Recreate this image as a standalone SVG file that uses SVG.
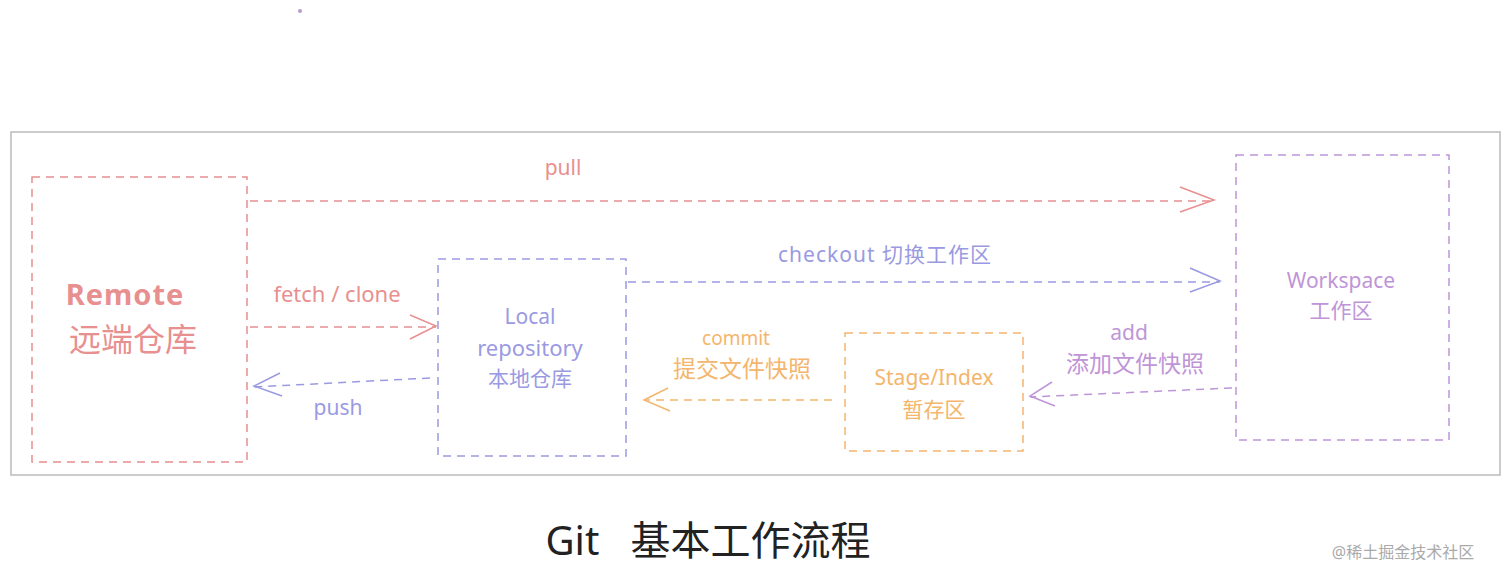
<svg xmlns="http://www.w3.org/2000/svg" width="1512" height="582" viewBox="0 0 1512 582">
<style>
.b{fill:none;stroke-width:1.5;stroke-dasharray:8 6}
.r{stroke:#e88f8f}.bl{stroke:#9a9ae2}.p{stroke:#bf95d8}.o{stroke:#f4b56c}
text{font-family:"Comic Sans MS","Noto Sans","Noto Sans CJK SC",sans-serif;text-anchor:middle}
.tr{fill:#e88f8f}.tb{fill:#9a9ae2}.tp{fill:#bf95d8}.to{fill:#f4b56c}
.h{fill:none;stroke-width:1.5}
</style>
<rect width="1512" height="582" fill="#fff"/>
<circle cx="300" cy="11" r="2" fill="#b79ad0"/>
<rect x="11" y="132" width="1489" height="343" fill="none" stroke="#bbb" stroke-width="1.5"/>
<g id="remote"><rect class="b r" x="32" y="177" width="215" height="285"/>
<text class="tr" x="125" y="305" font-size="29" font-weight="bold" letter-spacing="1">Remote</text>
<text class="tr" x="133" y="351" font-size="32">远端仓库</text></g>
<g id="local"><rect class="b bl" x="438" y="259" width="188" height="197"/>
<text class="tb" x="530" y="324" font-size="21">Local</text>
<text class="tb" x="530" y="356" font-size="22">repository</text>
<text class="tb" x="530" y="386" font-size="21">本地仓库</text></g>
<g id="stage"><rect class="b o" x="845" y="333" width="178" height="118"/>
<text class="to" x="934" y="385" font-size="21">Stage/Index</text>
<text class="to" x="934" y="417" font-size="21">暂存区</text></g>
<g id="workspace"><rect class="b p" x="1236" y="155" width="213" height="285"/>
<text class="tp" x="1341" y="288" font-size="21">Workspace</text>
<text class="tp" x="1341" y="318" font-size="21">工作区</text></g>
<g id="connectors">
<path class="b r" d="M250 201H1214"/><path class="h r" d="M1180 187L1214 200L1180 212"/>
<text class="tr" x="563" y="175" font-size="21">pull</text>
<path class="b r" d="M250 327H436"/><path class="h r" d="M410 315L436 326L410 339"/>
<text class="tr" x="337" y="302" font-size="22">fetch / clone</text>
<path class="b bl" d="M430 378L254 387"/><path class="h bl" d="M280 373L254 386L282 396"/>
<text class="tb" x="338" y="415" font-size="21">push</text>
<path class="b bl" d="M628 282H1220"/><path class="h bl" d="M1190 268L1220 281L1190 292"/>
<text class="tb" x="885" y="262" font-size="21" letter-spacing="1">checkout  切换工作区</text>
<path class="b o" d="M832 400H645"/><path class="h o" d="M668 388L644 400L670 411"/>
<text class="to" x="736" y="345" font-size="19">commit</text>
<text class="to" x="742" y="377" font-size="23">提交文件快照</text>
<path class="b p" d="M1232 388L1030 397"/><path class="h p" d="M1052 382L1030 396L1055 406"/>
<text class="tp" x="1129" y="340" font-size="21">add</text>
<text class="tp" x="1135" y="372" font-size="23">添加文件快照</text>
</g>
<text x="708" y="555" font-size="40" fill="#222" xml:space="preserve">Git   基本工作流程</text>
<text x="1403" y="558" font-size="16" fill="#aaa">@稀土掘金技术社区</text>
</svg>
